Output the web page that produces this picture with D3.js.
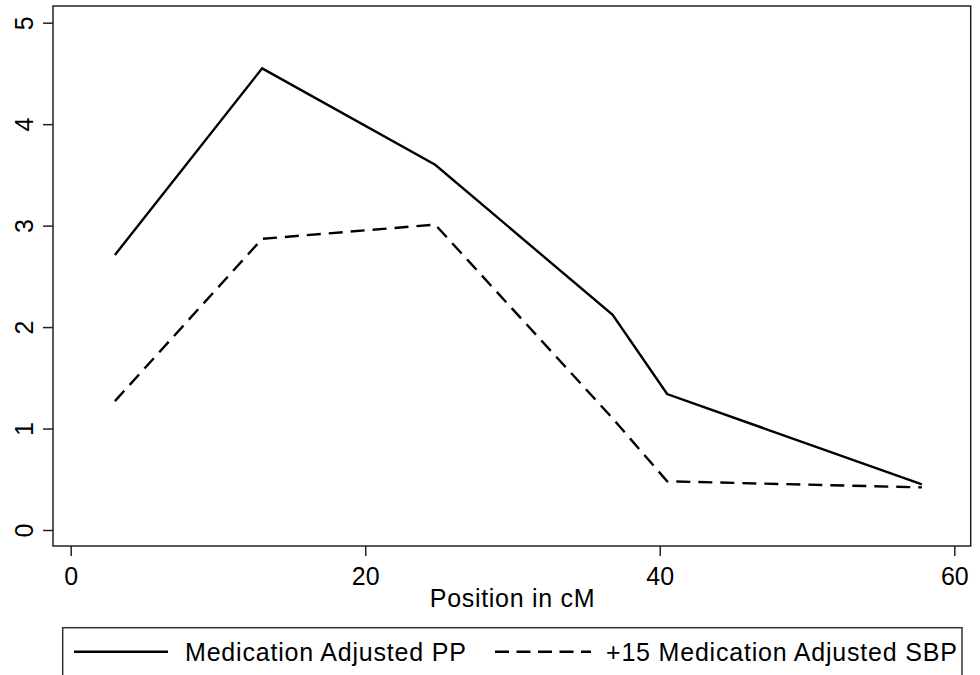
<!DOCTYPE html>
<html>
<head>
<meta charset="utf-8">
<script src="https://cdn.jsdelivr.net/npm/d3@7"></script>
<style>
  html, body { margin: 0; padding: 0; background: #fff; }
  svg { display: block; font-family: "Liberation Sans", Arial, Helvetica, sans-serif; }
</style>
</head>
<body>
<svg id="chart" width="980" height="675"></svg>
<script>
// ---- data ----
const positions = [3.0, 13.0, 24.75, 36.8, 40.5, 57.8];
const ppValues  = [2.71, 4.55, 3.60, 2.12, 1.34, 0.45];
const sbpValues = [1.27, 2.87, 3.01, 1.10, 0.48, 0.42];
const seriesNames = ["Medication Adjusted PP", "+15 Medication Adjusted SBP"];
const xTicks = [0, 20, 40, 60];
const yTicks = [0, 1, 2, 3, 4, 5];
const xTitle = "Position in cM";

// ---- layout ----
const W = 980, H = 675;
const frame = { left: 53, top: 6, right: 970.7, bottom: 546 };
const svg = d3.select("#chart");

const x = d3.scaleLinear().domain([0, 60]).range([70.7, 954.3]);
const y = d3.scaleLinear().domain([0, 5]).range([530, 22.7]);

svg.append("rect").attr("width", W).attr("height", H).attr("fill", "#fff");

// plot frame
svg.append("rect")
  .attr("x", frame.left).attr("y", frame.top)
  .attr("width", frame.right - frame.left).attr("height", frame.bottom - frame.top)
  .attr("fill", "none").attr("stroke", "#222").attr("stroke-width", 1.5);

// y axis
const yAxis = d3.axisLeft(y).tickValues(yTicks).tickSize(10).tickPadding(0).tickFormat(d3.format("d"));
const gy = svg.append("g").attr("transform", `translate(${frame.left},0)`).call(yAxis);
gy.select(".domain").remove();
gy.selectAll(".tick line").attr("stroke", "#222").attr("stroke-width", 1.5);
gy.selectAll(".tick text")
  .attr("x", null).attr("dy", null)
  .attr("transform", `translate(${33 - frame.left},0) rotate(-90)`)
  .attr("text-anchor", "middle")
  .attr("font-size", 25).attr("fill", "#000")
  .style("font-family", '"Liberation Sans", Arial, sans-serif');

// x axis
const xAxis = d3.axisBottom(x).tickValues(xTicks).tickSize(10).tickPadding(0).tickFormat(d3.format("d"));
const gx = svg.append("g").attr("transform", `translate(0,${frame.bottom})`).call(xAxis);
gx.select(".domain").remove();
gx.selectAll(".tick line").attr("stroke", "#222").attr("stroke-width", 1.5);
gx.selectAll(".tick text")
  .attr("y", 39).attr("dy", null)
  .attr("text-anchor", "middle")
  .attr("font-size", 25).attr("fill", "#000")
  .style("font-family", '"Liberation Sans", Arial, sans-serif');

// x title
svg.append("text")
  .attr("x", 512.5).attr("y", 607)
  .attr("text-anchor", "middle").attr("font-size", 25).attr("fill", "#000")
  .style("letter-spacing", "0.7px")
  .text(xTitle);

// lines
const line = d3.line().x(d => x(d[0])).y(d => y(d[1]));
const ppData = positions.map((p, i) => [p, ppValues[i]]);
const sbpData = positions.map((p, i) => [p, sbpValues[i]]);

svg.append("path").datum(ppData).attr("d", line)
  .attr("fill", "none").attr("stroke", "#000").attr("stroke-width", 2.4)
  .attr("stroke-linejoin", "miter");
svg.append("path").datum(sbpData).attr("d", line)
  .attr("fill", "none").attr("stroke", "#000").attr("stroke-width", 2.4)
  .attr("stroke-dasharray", "14,8").attr("stroke-linejoin", "miter");

// legend
const lg = svg.append("g");
lg.append("rect")
  .attr("x", 62.7).attr("y", 627.7).attr("width", 962 - 62.7).attr("height", 80)
  .attr("fill", "#fff").attr("stroke", "#333").attr("stroke-width", 1.5);
const legItems = [
  { name: seriesNames[0], x0: 74, x1: 168, tx: 185, dash: null },
  { name: seriesNames[1], x0: 495, x1: 591, tx: 606, dash: "14,7.5" }
];
legItems.forEach(it => {
  lg.append("line")
    .attr("x1", it.x0).attr("x2", it.x1).attr("y1", 651.7).attr("y2", 651.7)
    .attr("stroke", "#000").attr("stroke-width", 2.4)
    .attr("stroke-dasharray", it.dash);
  lg.append("text")
    .attr("x", it.tx).attr("y", 661).attr("font-size", 25).attr("fill", "#000")
    .style("letter-spacing", "0.8px")
    .text(it.name);
});
</script>
</body>
</html>
